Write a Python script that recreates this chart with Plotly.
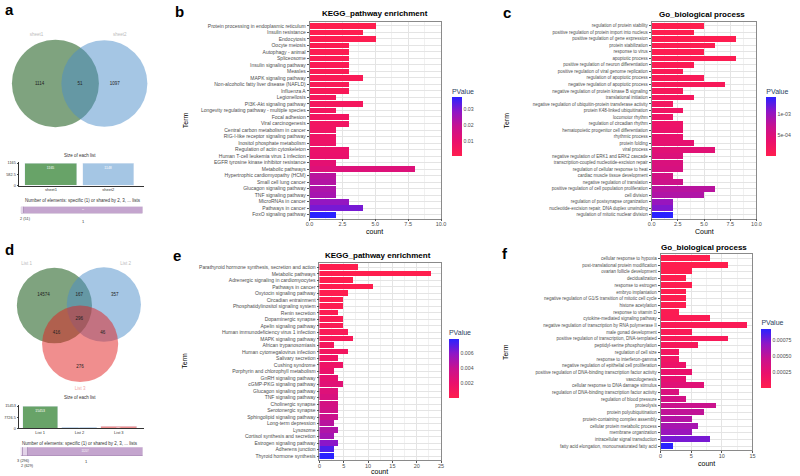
import plotly.graph_objects as go

W, H = 800, 476
FONT = "Liberation Sans"

# ---------------- data ----------------
b_terms = ["Protein processing in endoplasmic reticulum", "Insulin resistance", "Endocytosis", "Oocyte meiosis",
           "Autophagy - animal", "Spliceosome", "Insulin signaling pathway", "Measles", "MAPK signaling pathway",
           "Non-alcoholic fatty liver disease (NAFLD)", "Influenza A", "Legionellosis", "PI3K-Akt signaling pathway",
           "Longevity regulating pathway - multiple species", "Focal adhesion", "Viral carcinogenesis",
           "Central carbon metabolism in cancer", "RIG-I-like receptor signaling pathway", "Inositol phosphate metabolism",
           "Regulation of actin cytoskeleton", "Human T-cell leukemia virus 1 infection",
           "EGFR tyrosine kinase inhibitor resistance", "Metabolic pathways", "Hypertrophic cardiomyopathy (HCM)",
           "Small cell lung cancer", "Glucagon signaling pathway", "TNF signaling pathway", "MicroRNAs in cancer",
           "Pathways in cancer", "FoxO signaling pathway"]
b_counts = [5, 4, 5, 3, 3, 3, 3, 3, 4, 3, 3, 2, 4, 2, 3, 3, 2, 2, 2, 3, 3, 2, 8, 2, 2, 2, 2, 3, 4, 2]
b_pvalues = [0.0003, 0.0008, 0.0012, 0.0015, 0.0018, 0.002, 0.0022, 0.0025, 0.0028, 0.0032, 0.0035, 0.0045,
             0.005, 0.0055, 0.006, 0.0065, 0.007, 0.0075, 0.008, 0.009, 0.0095, 0.011, 0.013, 0.021, 0.022,
             0.023, 0.024, 0.027, 0.030, 0.037]

c_terms = ["regulation of protein stability", "positive regulation of protein import into nucleus",
           "positive regulation of gene expression", "protein stabilization", "response to virus", "apoptotic process",
           "positive regulation of neuron differentiation", "positive regulation of viral genome replication",
           "regulation of apoptotic process", "negative regulation of apoptotic process",
           "negative regulation of protein kinase B signaling", "translational initiation",
           "negative regulation of ubiquitin-protein transferase activity", "protein K48-linked ubiquitination",
           "locomotor rhythm", "regulation of circadian rhythm", "hematopoietic progenitor cell differentiation",
           "rhythmic process", "protein folding", "viral process", "negative regulation of ERK1 and ERK2 cascade",
           "transcription-coupled nucleotide-excision repair", "regulation of cellular response to heat",
           "cardiac muscle tissue development", "negative regulation of translation",
           "positive regulation of cell population proliferation", "cell division",
           "regulation of postsynapse organization", "nucleotide-excision repair, DNA duplex unwinding",
           "regulation of mitotic nuclear division"]
c_counts = [5, 4, 8, 6, 5, 8, 4, 3, 5, 7, 3, 4, 2, 3, 2, 3, 3, 3, 4, 6, 3, 3, 3, 2, 3, 6, 5, 2, 2, 2]
c_pvalues = [1e-5, 2e-5, 3e-5, 4e-5, 5e-5, 6e-5, 8e-5, 1e-4, 1.2e-4, 1.4e-4, 1.6e-4, 1.8e-4, 2.2e-4, 2.5e-4,
             2.8e-4, 3.1e-4, 3.4e-4, 3.7e-4, 4e-4, 4.5e-4, 5e-4, 5.3e-4, 5.6e-4, 6e-4, 6.5e-4, 8e-4, 8.5e-4,
             1.0e-3, 1.1e-3, 1.4e-3]

e_terms = ["Parathyroid hormone synthesis, secretion and action", "Metabolic pathways",
           "Adrenergic signaling in cardiomyocytes", "Pathways in cancer", "Oxytocin signaling pathway",
           "Circadian entrainment", "Phosphatidylinositol signaling system", "Renin secretion", "Dopaminergic synapse",
           "Apelin signaling pathway", "Human immunodeficiency virus 1 infection", "MAPK signaling pathway",
           "African trypanosomiasis", "Human cytomegalovirus infection", "Salivary secretion", "Cushing syndrome",
           "Porphyrin and chlorophyll metabolism", "GnRH signaling pathway", "cGMP-PKG signaling pathway",
           "Glucagon signaling pathway", "TNF signaling pathway", "Cholinergic synapse", "Serotonergic synapse",
           "Sphingolipid signaling pathway", "Long-term depression", "Lysosome", "Cortisol synthesis and secretion",
           "Estrogen signaling pathway", "Adherens junction", "Thyroid hormone synthesis"]
e_counts = [8, 23, 7, 11, 6, 5, 5, 4, 5, 5, 6, 7, 3, 6, 4, 5, 3, 4, 5, 4, 4, 4, 4, 4, 3, 4, 3, 4, 3, 3]
e_pvalues = [1e-5, 2e-5, 4e-5, 6e-5, 1e-4, 1.5e-4, 2e-4, 3e-4, 4e-4, 5e-4, 6e-4, 7e-4, 1e-3, 1.2e-3, 1.4e-3,
             1.6e-3, 1.9e-3, 2.2e-3, 2.5e-3, 2.7e-3, 3.0e-3, 3.3e-3, 3.5e-3, 3.8e-3, 4.5e-3, 4.8e-3, 5.2e-3,
             6.0e-3, 7.2e-3, 7.9e-3]

f_terms = ["cellular response to hypoxia", "post-translational protein modification", "ovarian follicle development",
           "decidualization", "response to estrogen", "embryo implantation",
           "negative regulation of G1/S transition of mitotic cell cycle", "histone acetylation",
           "response to vitamin D", "cytokine-mediated signaling pathway",
           "negative regulation of transcription by RNA polymerase II", "male gonad development",
           "positive regulation of transcription, DNA-templated", "peptidyl-serine phosphorylation",
           "regulation of cell size", "response to interferon-gamma",
           "negative regulation of epithelial cell proliferation",
           "positive regulation of DNA-binding transcription factor activity", "vasculogenesis",
           "cellular response to DNA damage stimulus", "regulation of DNA-binding transcription factor activity",
           "regulation of blood pressure", "proteolysis", "protein polyubiquitination",
           "protein-containing complex assembly", "cellular protein metabolic process", "membrane organization",
           "intracellular signal transduction", "fatty acid elongation, monounsaturated fatty acid"]
f_counts = [8, 11, 5, 4, 5, 4, 4, 4, 3, 8, 14, 5, 11, 6, 3, 3, 4, 5, 4, 7, 3, 4, 9, 7, 5, 6, 5, 8, 2]
f_pvalues = [1e-6, 2e-6, 4e-6, 6e-6, 1e-5, 1.5e-5, 2e-5, 2.5e-5, 4e-5, 5e-5, 6e-5, 7e-5, 8e-5, 1e-4, 1.5e-4,
             1.7e-4, 2e-4, 2.3e-4, 2.6e-4, 3e-4, 3.5e-4, 4e-4, 4.5e-4, 5e-4, 5.5e-4, 6e-4, 6.5e-4, 7.5e-4, 9.3e-4]

# Venn (panel a)
a_sets = ["sheet1", "sheet2"]
a_regions = ["1114", "51", "1097"]
a_sizes = [1165, 1148]
a_shared_labels = ["2 (51)", "1"]
a_shared_counts = [51, 2211]

# Venn (panel d)
d_sets = ["List 1", "List 2", "List 3"]
d_regions = ["14574", "167", "357", "296", "416", "46", "276"]
d_sizes = [15453, 866, 1034]
d_shared_counts = [296, 629, 15207]

PV_SCALE = [[0, '#FF1E4E'], [0.25, '#EA106C'], [0.5, '#C8128F'], [0.75, '#8F16C6'], [1, '#2A22FF']]
GREEN, BLUE, RED = '#68A368', '#A5C6E4', '#EF8E8E'


def xdom(x0, x1):
    return [x0 / W, x1 / W]


def ydom(y0, y1):
    return [1 - y1 / H, 1 - y0 / H]


fig = go.Figure()
layout = dict(width=W, height=H, margin=dict(l=0, r=0, t=0, b=0), paper_bgcolor='white',
              plot_bgcolor='rgba(0,0,0,0)', showlegend=False, font=dict(family=FONT), annotations=[], shapes=[],
              bargap=0)
ann = layout['annotations']
shp = layout['shapes']


def text(x, y, s, size=7, color='black', bold=False, angle=0, xanchor='center'):
    ann.append(dict(x=x / W, y=1 - y / H, xref='paper', yref='paper', text=(f'<b>{s}</b>' if bold else s),
                    showarrow=False, font=dict(size=size, color=color, family=FONT), textangle=angle,
                    xanchor=xanchor, yanchor='middle'))


def axkeys(n):
    return ('x' if n == 1 else f'x{n}', 'y' if n == 1 else f'y{n}',
            'xaxis' if n == 1 else f'xaxis{n}', 'yaxis' if n == 1 else f'yaxis{n}')


def enrichment(n, terms, counts, pvals, x0, x1, y0, y1, xmax, dtick, fmt, fs, cax):
    xa, ya, xk, yk = axkeys(n)
    fig.add_trace(go.Bar(x=counts, y=terms, orientation='h', xaxis=xa, yaxis=ya, width=0.88,
                         marker=dict(color=pvals, coloraxis=cax, line=dict(width=0)), hoverinfo='skip'))
    layout[xk] = dict(domain=xdom(x0, x1), anchor=ya, range=[0, xmax], tickmode='linear', tick0=0, dtick=dtick,
                      tickformat=fmt, showgrid=True, gridcolor='#E4E4E4', gridwidth=0.6,
                      minor=dict(showgrid=True, dtick=dtick / 2, gridcolor='#F1F1F1', gridwidth=0.4),
                      showline=True, mirror=True, linecolor='#8A8A8A', linewidth=0.7, ticks='outside', ticklen=2,
                      tickcolor='#555555', tickwidth=0.5, tickfont=dict(size=5.5, color='#4D4D4D'),
                      ticklabelstandoff=-2, zeroline=False, fixedrange=True)
    layout[yk] = dict(domain=ydom(y0, y1), anchor=xa, type='category', categoryorder='array', categoryarray=terms,
                      range=[len(terms) - 1 + 0.6, -0.6], tickmode='linear', tick0=0, dtick=1, showgrid=True,
                      gridcolor='#E4E4E4', gridwidth=0.6, showline=True, mirror=True, linecolor='#8A8A8A',
                      linewidth=0.7, ticks='outside', ticklen=2, tickcolor='#555555', tickwidth=0.5,
                      tickfont=dict(size=fs, color='#4D4D4D'), fixedrange=True)


def colorbar(key, pvals, x, ytop, length, tickvals, ticktext):
    layout[key] = dict(colorscale=PV_SCALE, cmin=min(pvals), cmax=max(pvals),
                       colorbar=dict(x=x / W, xanchor='left', y=1 - ytop / H, yanchor='top', len=length,
                                     lenmode='pixels', thickness=10, thicknessmode='pixels', xpad=0, ypad=0,
                                     outlinewidth=0, tickvals=tickvals, ticktext=ticktext, ticks='',
                                     tickfont=dict(size=5.2, color='#4D4D4D', family=FONT),
                                     title=dict(text='PValue', side='top', font=dict(size=7, family=FONT))))


# ---- enrichment panels ----
enrichment(1, b_terms, b_counts, b_pvalues, 309, 442, 21, 219, 10, 2.5, '.1f', 5, 'coloraxis')
enrichment(2, c_terms, c_counts, c_pvalues, 655, 761, 21, 219, 10, 2.5, '.1f', 4.5, 'coloraxis2')
enrichment(3, e_terms, e_counts, e_pvalues, 319, 442, 264, 462, 25, 5, 'd', 5, 'coloraxis3')
enrichment(4, f_terms, f_counts, f_pvalues, 664, 757, 255, 452, 15, 5, 'd', 4.5, 'coloraxis4')

colorbar('coloraxis', b_pvalues, 453, 85, 71, [0.01, 0.02, 0.03], ['0.01', '0.02', '0.03'])
colorbar('coloraxis2', c_pvalues, 771, 85, 71, [5e-4, 1e-3], ['5e-04', '1e-03'])
colorbar('coloraxis3', e_pvalues, 450, 328, 71, [0.002, 0.004, 0.006], ['0.002', '0.004', '0.006'])
colorbar('coloraxis4', f_pvalues, 766, 318, 71, [0.00025, 0.0005, 0.00075], ['0.00025', '0.00050', '0.00075'])

text(375, 13, 'KEGG_pathway enrichment', 8, bold=True)
text(706, 14, 'Go_biological process', 8, bold=True)
text(378, 256, 'KEGG_pathway enrichment', 8, bold=True)
text(708, 248, 'Go_biological process', 8, bold=True)
text(375, 232, 'count', 7)
text(708, 232, 'Count', 7)
text(380, 473, 'count', 7)
text(710, 465, 'count', 7)
text(183, 120, 'Term', 7, angle=-90)
text(508, 120, 'Term', 7, angle=-90)
text(183, 362, 'Term', 7, angle=-90)
text(507, 353, 'Term', 7, angle=-90)

# panel letters
text(6, 9, 'a', 15, bold=True)
text(177, 11, 'b', 15, bold=True)
text(509, 12, 'c', 15, bold=True)
text(6, 250, 'd', 15, bold=True)
text(175, 256, 'e', 15, bold=True)
text(507, 254, 'f', 15, bold=True)

# ---- Venn panel a ----
layout['xaxis5'] = dict(domain=xdom(0, 165), range=[0, 165], visible=False, anchor='y5', fixedrange=True)
layout['yaxis5'] = dict(domain=ydom(20, 140), range=[140, 20], visible=False, anchor='x5', fixedrange=True)
venn_a = [(52, 83, 44, 'rgba(0,72,0,0.5)'), (101.5, 83, 43.5, 'rgba(75,141,201,0.5)')]
for cx, cy, r, col in venn_a:
    shp.append(dict(type='circle', xref='x5', yref='y5', x0=cx - r, x1=cx + r, y0=cy - r, y1=cy + r,
                    fillcolor=col, line=dict(width=0), layer='below'))
fig.add_trace(go.Scatter(x=[36, 77, 112], y=[83, 83, 83], text=a_regions, mode='text', xaxis='x5', yaxis='y5',
                         textfont=dict(size=4.5, color='#222222', family=FONT), hoverinfo='skip'))
fig.add_trace(go.Scatter(x=[33, 117], y=[34, 34], text=a_sets, mode='text', xaxis='x5', yaxis='y5',
                         textfont=dict(size=4.5, color='#BBBBBB', family=FONT), hoverinfo='skip'))

text(77, 155, 'Size of each list', 4.5, '#333333')
fig.add_trace(go.Bar(x=a_sets, y=a_sizes, xaxis='x6', yaxis='y6', width=0.9, marker=dict(color=[GREEN, BLUE]),
                     text=[str(v) for v in a_sizes], textposition='inside', insidetextanchor='end',
                     textfont=dict(size=3.5, color='white'), hoverinfo='skip'))
layout['xaxis6'] = dict(domain=xdom(15, 142), range=[-0.56, 1.63], anchor='y6', showline=True, linecolor='#333333',
                        linewidth=0.6, tickfont=dict(size=4, color='#333333'), ticks='', fixedrange=True)
layout['yaxis6'] = dict(domain=ydom(162.5, 186), range=[0, 1200], anchor='x6', showline=True, linecolor='#333333',
                        linewidth=0.6, tickvals=[0, 582.5, 1165], ticktext=['0', '582.5', '1165'],
                        tickfont=dict(size=3.8, color='#333333'), showgrid=False, zeroline=False, ticks='outside',
                        ticklen=1.5, fixedrange=True)

text(80, 201, 'Number of elements: specific (1) or shared by 2, 3, ... lists', 4.5, '#333333')
fig.add_trace(go.Bar(x=[a_shared_counts[0]], y=['s'], orientation='h', xaxis='x7', yaxis='y7', width=1,
                     marker=dict(color='#E2D3E8', line=dict(color='#9F82AE', width=0.5)), hoverinfo='skip'))
fig.add_trace(go.Bar(x=[a_shared_counts[1]], y=['s'], orientation='h', xaxis='x7', yaxis='y7', width=1,
                     text=[str(a_shared_counts[1])], textposition='inside', insidetextanchor='middle',
                     textfont=dict(size=3.5, color='white'),
                     marker=dict(color='#C4A5CE', line=dict(color='#9F82AE', width=0.5)), hoverinfo='skip'))
layout['xaxis7'] = dict(domain=xdom(17, 140), range=[0, sum(a_shared_counts)], visible=False, anchor='y7',
                        fixedrange=True)
layout['yaxis7'] = dict(domain=ydom(207, 214), visible=False, anchor='x7', fixedrange=True)
layout['barmode'] = 'stack'
text(22, 219, a_shared_labels[0], 3.8, '#333333')
text(80, 222, a_shared_labels[1], 4, '#333333')

# ---- Venn panel d ----
layout['xaxis8'] = dict(domain=xdom(0, 165), range=[0, 165], visible=False, anchor='y8', fixedrange=True)
layout['yaxis8'] = dict(domain=ydom(258, 396), range=[396, 258], visible=False, anchor='x8', fixedrange=True)
venn_d = [(51, 306.5, 38, 'rgba(0,72,0,0.5)'), (101, 305.5, 37.5, 'rgba(75,141,201,0.5)'),
          (77, 345, 38.5, 'rgba(225,30,30,0.5)')]
for cx, cy, r, col in venn_d:
    shp.append(dict(type='circle', xref='x8', yref='y8', x0=cx - r, x1=cx + r, y0=cy - r, y1=cy + r,
                    fillcolor=col, line=dict(width=0), layer='below'))
fig.add_trace(go.Scatter(x=[40, 76, 112, 76, 53, 100, 77], y=[296, 296, 296, 320, 334, 334, 368], text=d_regions,
                         mode='text', xaxis='x8', yaxis='y8',
                         textfont=dict(size=4.5, color='#222222', family=FONT), hoverinfo='skip'))
fig.add_trace(go.Scatter(x=[23, 123, 77], y=[265, 265, 390], text=d_sets, mode='text', xaxis='x8', yaxis='y8',
                         textfont=dict(size=4.5, color=['#BBBBBB', '#BBBBBB', '#F2A6A6'], family=FONT),
                         hoverinfo='skip'))

text(77, 399, 'Size of each list', 4.5, '#333333')
fig.add_trace(go.Bar(x=d_sets, y=d_sizes, xaxis='x9', yaxis='y9', width=0.9, marker=dict(color=[GREEN, BLUE, RED]),
                     text=[str(v) for v in d_sizes], textposition='inside', insidetextanchor='end',
                     textfont=dict(size=3.5, color='white'), hoverinfo='skip'))
layout['xaxis9'] = dict(domain=xdom(15, 142), range=[-0.54, 2.65], anchor='y9', showline=True, linecolor='#333333',
                        linewidth=0.6, tickfont=dict(size=4, color='#333333'), ticks='', fixedrange=True)
layout['yaxis9'] = dict(domain=ydom(407, 430), range=[0, 15453 * 1.03], anchor='x9', showline=True,
                        linecolor='#333333', linewidth=0.6, tickvals=[0, 15453 / 2, 15453],
                        ticktext=['0', '7726.5', '15453'], tickfont=dict(size=3.8, color='#333333'),
                        showgrid=False, zeroline=False, ticks='outside', ticklen=1.5, fixedrange=True)

text(77, 445, 'Number of elements: specific (1) or shared by 2, 3, ... lists', 4.5, '#333333')
for val, col in zip(d_shared_counts, ['#EDE3F0', '#E2D3E8', '#C4A5CE']):
    fig.add_trace(go.Bar(x=[val], y=['s'], orientation='h', xaxis='x10', yaxis='y10', width=1,
                         text=[str(val)] if val == max(d_shared_counts) else None, textposition='inside',
                         insidetextanchor='middle', textfont=dict(size=3.5, color='white'),
                         marker=dict(color=col, line=dict(color='#9F82AE', width=0.5)), hoverinfo='skip'))
layout['xaxis10'] = dict(domain=xdom(17, 140), range=[0, sum(d_shared_counts)], visible=False, anchor='y10',
                         fixedrange=True)
layout['yaxis10'] = dict(domain=ydom(449, 458), visible=False, anchor='x10', fixedrange=True)
text(20, 463, '3 (296)', 3.8, '#333333')
text(24, 468, '2 (629)', 3.8, '#333333')
text(83, 463, '1', 4, '#333333')

fig.update_layout(**layout)
fig.write_html("out.html", config={'displayModeBar': False},
               post_script="document.body.style.margin='0';document.body.style.overflow='hidden';")
